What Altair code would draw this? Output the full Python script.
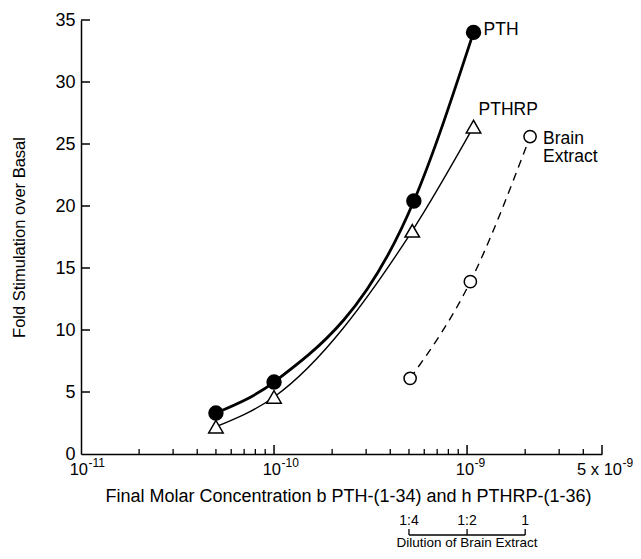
import math
import altair as alt
import pandas as pd

# ---------------- data ----------------
pth_x = [5e-11, 1e-10, 5.3e-10, 1.08e-9]
pth_y = [3.3, 5.8, 20.4, 34.0]

pthrp_x = [5e-11, 1e-10, 5.2e-10, 1.08e-9]
pthrp_y = [2.2, 4.6, 18.0, 26.4]

brain_x = [5.07e-10, 1.04e-9, 2.12e-9]
brain_y = [6.1, 13.9, 25.6]

x_tick_values = [1e-11, 1e-10, 1e-9, 5e-9]
x_tick_base = ["10", "10", "10", "5 x 10"]
x_tick_exp = ["-11", "-10", "-9", "-9"]
x_major_ticks = [1e-10, 1e-9, 5e-9]
x_minor_ticks = [2e-11, 3e-11, 4e-11, 5e-11, 6e-11, 7e-11, 8e-11, 9e-11,
                 2e-10, 3e-10, 4e-10, 5e-10, 6e-10, 7e-10, 8e-10, 9e-10,
                 2e-9, 3e-9, 4e-9]
y_tick_values = [0, 5, 10, 15, 20, 25, 30, 35]

dilution_x = [5e-10, 1e-9, 2e-9]
dilution_labels = ["1:4", "1:2", "1"]

x_title = "Final Molar Concentration b PTH-(1-34) and h PTHRP-(1-36)"
y_title = "Fold Stimulation over Basal"
dilution_title = "Dilution of Brain Extract"

# ---------------- layout ----------------
W, H = 521, 434
FONT = "Liberation Sans"

pth = pd.DataFrame({"x": pth_x, "y": pth_y})
pthrp = pd.DataFrame({"x": pthrp_x, "y": pthrp_y})
brain = pd.DataFrame({"x": brain_x, "y": brain_y})
xlab = pd.DataFrame({"x": x_tick_values, "base": x_tick_base, "exp": x_tick_exp})

xscale = alt.Scale(type="log", domain=[x_tick_values[0], x_tick_values[-1]], nice=False)
yscale = alt.Scale(domain=[0, 35], nice=False)

x_axis = alt.Axis(
    values=x_tick_values, labels=False, ticks=False, grid=False,
    domainColor="black", domainWidth=1.5,
    title=x_title, titleFont=FONT, titleFontSize=18, titleFontWeight="normal",
    titleColor="black", titleX=267, titleY=42, titleBaseline="middle",
    titleAlign="center",
)
y_axis = alt.Axis(
    values=y_tick_values, ticks=False, grid=False,
    domainColor="black", domainWidth=1.5, labelColor="black",
    labelFont=FONT, labelFontSize=18, labelPadding=6, labelFlush=False,
    title=y_title, titleFont=FONT, titleFontSize=16.5, titleFontWeight="normal",
    titleColor="black", titleX=-62, titleY=H / 2, titleAngle=270,
    titleBaseline="middle", titleAlign="center",
)

X = lambda: alt.X("x:Q", scale=xscale, axis=x_axis)
Y = lambda: alt.Y("y:Q", scale=yscale, axis=y_axis)

pth_line = alt.Chart(pth).mark_line(
    color="black", strokeWidth=2.8, interpolate="monotone"
).encode(x=X(), y=Y())

pthrp_line = alt.Chart(pthrp).mark_line(
    color="black", strokeWidth=1.4, interpolate="monotone"
).encode(x=X(), y=Y())

brain_line = alt.Chart(brain).mark_line(
    color="black", strokeWidth=1.4, strokeDash=[8, 6], interpolate="monotone"
).encode(x=X(), y=Y())

pth_pts = alt.Chart(pth).mark_point(
    shape="circle", filled=True, fill="black", stroke="black", size=180, opacity=1
).encode(x=X(), y=Y())

pthrp_pts = alt.Chart(pthrp).mark_point(
    shape="triangle-up", filled=True, fill="white", stroke="black",
    strokeWidth=1.5, size=210, opacity=1
).encode(x=X(), y=Y())

brain_pts = alt.Chart(brain).mark_point(
    shape="circle", filled=True, fill="white", stroke="black",
    strokeWidth=1.5, size=150, opacity=1
).encode(x=X(), y=Y())

# series labels anchored on the last point of each series
def label(df, text, dx, dy, baseline="middle"):
    return alt.Chart(df.tail(1)).mark_text(
        text=text, align="left", baseline=baseline, dx=dx, dy=dy,
        font=FONT, fontSize=17.5, color="black", lineBreak="\n", lineHeight=18
    ).encode(x=X(), y=Y())

lab_pth = label(pth, "PTH", 10, -2)
lab_pthrp = label(pthrp, "PTHRP", 5, -17)
lab_brain = label(brain, "Brain\nExtract", 13, -7, baseline="top")

# x tick labels with raised exponents
pow_lab = xlab.iloc[:3]
end_lab = xlab.iloc[3:]
def tick_labels(df, dx):
    base = alt.Chart(df).mark_text(
        font=FONT, fontSize=16.5, color="black", align="right",
        baseline="alphabetic", dx=dx
    ).encode(x=X(), y=alt.value(H + 21), text="base:N")
    exp = alt.Chart(df).mark_text(
        font=FONT, fontSize=12, color="black", align="left",
        baseline="alphabetic", dx=dx + 0.5
    ).encode(x=X(), y=alt.value(H + 13), text="exp:N")
    return base + exp

xl1 = tick_labels(pow_lab, 7)
xl2 = tick_labels(end_lab, 20)

# inward axis ticks
xmaj = alt.Chart(pd.DataFrame({"x": x_major_ticks})).mark_rule(
    color="black", strokeWidth=1.5
).encode(x=X(), y=alt.value(H), y2=alt.value(H - 9))
xmin = alt.Chart(pd.DataFrame({"x": x_minor_ticks})).mark_rule(
    color="black", strokeWidth=1.3
).encode(x=X(), y=alt.value(H), y2=alt.value(H - 5))
yt = alt.Chart(pd.DataFrame({"y": y_tick_values[1:]})).mark_rule(
    color="black", strokeWidth=1.5
).encode(y=Y(), x=alt.value(0), x2=alt.value(9))

# dilution ruler below the x axis
ruler_y = H + 81
ruler = alt.Chart(pd.DataFrame({"x": [dilution_x[0]], "x2": [dilution_x[-1]]})).mark_rule(
    color="black", strokeWidth=1.3
).encode(x=X(), x2="x2:Q", y=alt.value(ruler_y))
ruler_ticks = alt.Chart(pd.DataFrame({"x": dilution_x})).mark_rule(
    color="black", strokeWidth=1.3
).encode(x=X(), y=alt.value(ruler_y), y2=alt.value(ruler_y - 6))
ruler_labels = alt.Chart(pd.DataFrame({"x": dilution_x, "t": dilution_labels})).mark_text(
    font=FONT, fontSize=14, color="black", baseline="middle", align="center"
).encode(x=X(), y=alt.value(H + 67), text="t:N")
ruler_title = alt.Chart(pd.DataFrame({"x": [math.sqrt(dilution_x[0] * dilution_x[-1])]})).mark_text(
    text=dilution_title, font=FONT, fontSize=13.5, color="black",
    baseline="middle", align="center"
).encode(x=X(), y=alt.value(H + 89))

chart = alt.layer(
    pth_line, pthrp_line, brain_line,
    pth_pts, pthrp_pts, brain_pts,
    lab_pth, lab_pthrp, lab_brain,
    xl1, xl2,
    xmaj, xmin, yt,
    ruler, ruler_ticks, ruler_labels, ruler_title,
).properties(
    width=W, height=H,
    padding={"left": 73, "top": 12, "right": 31, "bottom": 104},
    autosize=alt.AutoSizeParams(type="none"),
    background="white",
).configure_view(stroke=None)

chart.save("out.html", embed_options={"renderer": "svg", "actions": False})
